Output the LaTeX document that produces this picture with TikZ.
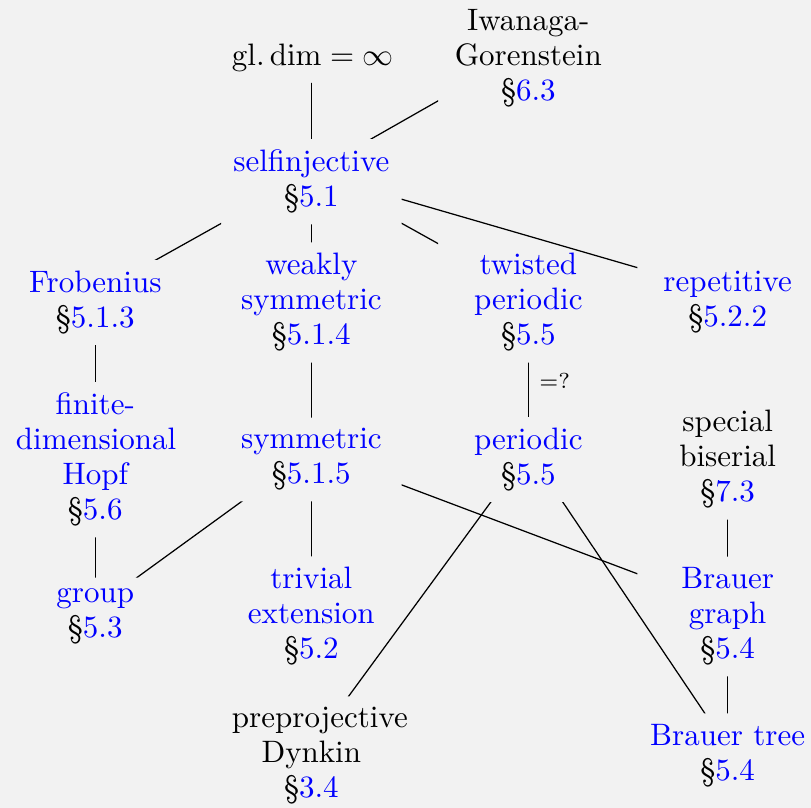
\documentclass[tikz,border=0pt]{standalone}
\usepackage{amsmath,amssymb}
\usepackage{xcolor}
\usepackage{tikz}
\usetikzlibrary{positioning}

\newcommand{\lnk}[1]{\textcolor{blue}{#1}}
\newcommand{\secref}[1]{\S\textcolor{blue}{#1}}
% line between two classes, aimed a little above the node centres
\newcommand{\relline}[2]{%
  \begin{scope}[even odd rule]
    \clip (0,0) rectangle (9.2,-9.2)
      (#1.south west) rectangle (#1.north east)
      (#2.south west) rectangle (#2.north east);
    \draw[rel] ([yshift=2.8pt]#1.center) -- ([yshift=2.8pt]#2.center);
  \end{scope}}

\begin{document}
\begin{tikzpicture}[
cls/.style={
    text width=51.2pt,
    align=center,
    font=\fontsize{10}{11.3}\selectfont
},
rel/.style={line width=0.4pt, black},
lbl/.style={right, font=\scriptsize}
]

\path[use as bounding box, fill=black!5] (0,0) rectangle (9.195,-9.161);

\node[cls] (gldim) at (3.53,-0.66) {\mbox{$\mathrm{gl.\,dim}=\infty$}};
\node[cls] (iwanaga) at (5.99,-0.66) {Iwanaga-Gorenstein\\\secref{6.3}};
\node[cls] (selfinj) at (3.53,-2.06) {\lnk{selfinjective}\\\secref{5.1}};
\node[cls] (frob) at (1.08,-3.43) {\lnk{Frobenius}\\\secref{5.1.3}};
\node[cls] (weaksym) at (3.53,-3.43) {\lnk{weakly symmetric}\\\secref{5.1.4}};
\node[cls] (twisted) at (5.99,-3.43) {\lnk{twisted periodic}\\\secref{5.5}};
\node[cls] (repet) at (8.25,-3.43) {\lnk{repetitive}\\\secref{5.2.2}};
\node[cls] (hopf) at (1.08,-5.21) {\lnk{finite-dimensional Hopf}\\\secref{5.6}};
\node[cls] (sym) at (3.53,-5.21) {\lnk{symmetric}\\\secref{5.1.5}};
\node[cls] (periodic) at (5.99,-5.21) {\lnk{periodic}\\\secref{5.5}};
\node[cls] (specbis) at (8.25,-5.21) {special biserial\\\secref{7.3}};
\node[cls] (group) at (1.08,-6.99) {\lnk{group}\\\secref{5.3}};
\node[cls] (trivext) at (3.53,-6.99) {\lnk{trivial extension}\\\secref{5.2}};
\node[cls] (brgraph) at (8.25,-6.99) {\lnk{Brauer graph}\\\secref{5.4}};
\node[cls] (preproj) at (3.53,-8.57) {preprojective Dynkin\\\secref{3.4}};
\node[cls] (brtree) at (8.25,-8.57) {\lnk{Brauer tree}\\\secref{5.4}};

\relline{gldim}{selfinj}
\relline{iwanaga}{selfinj}
\relline{selfinj}{frob}
\relline{selfinj}{weaksym}
\relline{selfinj}{twisted}
\relline{selfinj}{repet}
\relline{frob}{hopf}
\relline{weaksym}{sym}
\relline{twisted}{periodic}
\path (twisted.center) -- node[lbl] {=?} (periodic.center);
\relline{hopf}{group}
\relline{sym}{group}
\relline{sym}{trivext}
\relline{sym}{brgraph}
\relline{periodic}{preproj}
\relline{periodic}{brtree}
\relline{specbis}{brgraph}
\relline{brgraph}{brtree}

\end{tikzpicture}
\end{document}
